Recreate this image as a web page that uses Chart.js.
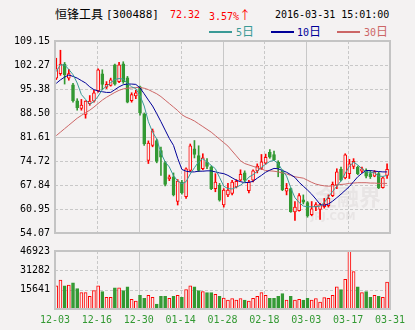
<!DOCTYPE html>
<html>
<head>
<meta charset="utf-8">
<script src="https://cdn.jsdelivr.net/npm/chart.js@4.4.1/dist/chart.umd.min.js"></script>
<style>
  body { margin: 0; background: #f4f2f2; }
  #wrap { position: relative; width: 415px; height: 330px; overflow: hidden; font-family: "DejaVu Sans Mono", monospace; font-size: 10px; }
  #wrap canvas { position: absolute; left: 0; }
  .t { position: absolute; white-space: nowrap; line-height: 12px; }
  .cjk { font-family: "Noto Sans CJK SC", sans-serif; font-size: 12px; }
  .ln { position: absolute; height: 2px; width: 23px; }
</style>
</head>
<body>
<div id="wrap">
  <span class="t cjk" style="left:55px;top:8px;">恒锋工具</span>
  <span class="t" style="left:106px;top:9px;font-size:11px;">[300488]</span>
  <span class="t" style="left:170px;top:9px;color:#ff0000;">72.32</span>
  <span class="t" style="left:209px;top:9px;color:#ff0000;">3.57%<span class="cjk">↑</span></span>
  <span class="t" style="left:275px;top:9px;">2016-03-31 15:01:00</span>

  <span class="ln" style="left:209px;top:31px;background:#3a9a96;"></span>
  <span class="t" style="left:236px;top:25px;color:#3a9a96;">5<span class="cjk">日</span></span>
  <span class="ln" style="left:271px;top:31px;background:#000099;"></span>
  <span class="t" style="left:297px;top:25px;color:#000099;">10<span class="cjk">日</span></span>
  <span class="ln" style="left:337px;top:31px;background:#cc6666;"></span>
  <span class="t" style="left:364px;top:25px;color:#cc6666;">30<span class="cjk">日</span></span>

  <canvas id="price" width="415" height="244" style="top:0;"></canvas>
  <canvas id="vol" width="415" height="90" style="top:240px;"></canvas>
</div>
<script>
// tick labels
const dateLabels = ["12-03", "12-16", "12-30", "01-14", "01-28", "02-18", "03-03", "03-17", "03-31"];
const priceTickLabels = ["54.07", "60.95", "67.84", "74.72", "81.61", "88.50", "95.38", "102.27", "109.15"];
const volTickLabels = ["0", "15641", "31282", "46923"];

// daily candles (80 trading days)
const opens = [98.5, 99.8, 102.5, 98.5, 96.6, 92.0, 89.8, 88.1, 91.2, 91.9,
  94.8, 99.7, 95.9, 96.4, 102.3, 97.5, 102.6, 98.6, 92.0, 93.4,
  96.0, 88.1, 74.9, 79.2, 80.6, 77.7, 74.3, 69.6, 70.2, 63.1,
  68.7, 64.5, 72.0, 78.2, 76.3, 72.5, 74.4, 73.0, 66.8, 67.8,
  62.1, 65.0, 65.4, 67.3, 69.2, 71.3, 66.2, 69.2, 71.9, 72.6,
  74.1, 77.2, 76.6, 74.4, 71.8, 66.1, 66.8, 60.1, 60.5, 63.6,
  62.8, 59.3, 61.6, 60.8, 61.6, 61.9, 64.8, 67.8, 72.3, 69.9,
  71.1, 73.2, 73.0, 71.8, 71.8, 71.1, 70.4, 71.1, 67.1, 70.6];
const highs = [104.2, 106.5, 103.0, 101.0, 97.0, 92.6, 92.4, 92.0, 93.5, 95.0,
  101.2, 100.9, 97.5, 98.5, 102.5, 103.0, 103.2, 99.0, 94.3, 95.0,
  96.2, 88.5, 80.5, 83.9, 81.0, 78.7, 74.6, 70.7, 71.3, 69.4,
  69.2, 72.8, 79.6, 80.6, 79.1, 76.8, 75.4, 73.3, 71.1, 68.3,
  66.8, 68.3, 69.2, 69.4, 72.2, 71.9, 69.2, 72.2, 73.9, 76.6,
  76.7, 78.0, 77.6, 74.8, 72.2, 68.3, 67.0, 63.1, 65.4, 65.0,
  63.1, 63.1, 62.8, 62.6, 64.0, 65.0, 68.7, 72.5, 73.0, 76.8,
  75.2, 75.4, 73.3, 73.0, 72.5, 72.0, 72.0, 71.5, 70.2, 73.9];
const lows = [98.1, 99.3, 96.8, 97.9, 91.6, 89.3, 89.3, 87.0, 90.7, 91.6,
  94.5, 95.2, 95.5, 96.2, 96.5, 97.2, 97.0, 91.4, 91.6, 92.6,
  87.9, 79.2, 74.0, 78.8, 74.2, 70.6, 67.6, 69.1, 64.7, 62.1,
  65.2, 64.0, 71.7, 75.6, 71.7, 72.2, 72.5, 66.5, 65.9, 63.2,
  61.5, 64.5, 65.0, 67.0, 69.0, 68.7, 65.6, 68.7, 71.3, 72.3,
  73.8, 75.5, 74.8, 70.2, 66.2, 65.0, 60.0, 57.7, 60.3, 62.4,
  58.6, 59.0, 60.5, 58.0, 61.2, 61.5, 64.5, 66.8, 69.0, 69.6,
  69.7, 72.5, 70.8, 71.4, 69.9, 69.7, 70.2, 66.8, 66.9, 69.7];
const closes = [101.2, 102.5, 99.5, 99.8, 92.0, 90.0, 90.8, 91.9, 91.9, 94.3,
  100.9, 96.7, 96.7, 98.0, 96.8, 102.3, 97.5, 91.6, 93.8, 94.3,
  88.6, 79.6, 79.9, 83.4, 74.6, 75.8, 68.0, 70.2, 65.0, 69.0,
  65.6, 72.5, 79.1, 76.6, 72.0, 75.6, 73.2, 66.8, 68.7, 63.5,
  66.4, 66.4, 68.7, 68.9, 70.9, 69.2, 68.7, 71.9, 73.3, 74.5,
  75.8, 75.8, 75.0, 72.8, 66.5, 66.9, 60.2, 61.5, 64.8, 62.9,
  59.0, 61.0, 62.2, 62.2, 62.4, 64.0, 68.0, 71.6, 69.2, 76.5,
  73.9, 74.6, 71.1, 72.5, 70.4, 70.2, 71.6, 67.0, 69.9, 72.3];
const volumes = [18690, 23300, 18690, 19450, 21230, 16620, 13300, 13300, 10230, 14840,
  18690, 14070, 9460, 9460, 17150, 17150, 14840, 17920, 7920, 6380,
  11000, 8690, 11000, 9460, 4080, 10230, 10230, 8690, 10230, 11000,
  9460, 15610, 18690, 17920, 14840, 14070, 13300, 13300, 11770, 10230,
  8920, 7150, 8460, 7150, 8460, 7150, 6380, 8690, 10230, 13300,
  11000, 8690, 8690, 10230, 12530, 7150, 10230, 7150, 7920, 7150,
  8690, 7150, 8460, 5610, 9150, 8690, 11000, 17920, 15610, 24070,
  46900, 30220, 17920, 13300, 14070, 9460, 11000, 10230, 9460, 21760];

// moving averages as shown
const ma5 = [100.4, 102.3, 102.3, 101.0, 99.5, 97.1, 93.8, 92.4, 91.0, 91.8,
  93.3, 95.2, 96.2, 97.2, 98.1, 98.4, 98.2, 97.0, 96.0, 95.5,
  93.5, 90.5, 86.0, 83.0, 81.0, 77.0, 74.5, 73.0, 70.5, 69.0,
  68.2, 68.8, 71.0, 72.8, 74.5, 75.4, 74.4, 73.5, 72.5, 70.0,
  67.5, 66.8, 66.7, 67.2, 67.8, 68.7, 70.1, 70.8, 71.8, 72.9,
  73.8, 74.6, 74.9, 74.0, 72.0, 70.4, 67.0, 64.2, 62.8, 61.8,
  61.6, 61.6, 61.6, 61.8, 62.8, 64.5, 66.0, 67.5, 69.0, 71.2,
  73.2, 74.4, 73.6, 72.5, 71.6, 71.5, 71.3, 70.4, 70.3, 70.6];
const ma10 = [97.0, 98.0, 98.8, 99.4, 99.0, 98.5, 97.8, 97.1, 96.0, 95.2,
  94.8, 94.6, 94.4, 94.4, 95.2, 96.0, 96.6, 96.8, 96.8, 96.7,
  95.7, 94.0, 92.2, 90.5, 88.3, 86.0, 83.6, 81.2, 79.2, 75.5,
  72.3, 71.8, 71.6, 71.6, 71.8, 71.8, 71.9, 71.9, 71.6, 71.3,
  71.1, 70.6, 69.9, 69.2, 68.8, 68.5, 68.6, 68.9, 69.8, 70.6,
  71.5, 72.1, 72.6, 72.5, 72.0, 71.5, 70.8, 70.0, 68.6, 67.5,
  66.4, 65.2, 63.8, 62.3, 62.0, 62.4, 63.2, 64.2, 65.2, 66.3,
  67.4, 68.8, 70.2, 71.2, 72.0, 72.0, 71.8, 71.7, 71.6, 71.6];
const ma30 = [82.0, 83.0, 84.0, 85.0, 86.0, 87.0, 87.8, 88.6, 89.3, 90.2,
  91.2, 92.2, 93.0, 93.7, 94.4, 95.0, 95.4, 95.6, 95.7, 95.8,
  95.8, 95.6, 95.2, 94.6, 94.0, 93.2, 92.2, 91.2, 90.2, 89.2,
  88.0, 87.3, 86.8, 86.2, 85.4, 84.6, 83.8, 83.0, 82.0, 81.0,
  80.0, 79.0, 77.6, 76.2, 74.8, 74.0, 73.6, 73.2, 72.8, 72.4,
  72.0, 71.9, 71.8, 71.6, 71.3, 71.0, 70.6, 70.2, 70.0, 69.8,
  69.2, 68.6, 68.1, 67.8, 67.6, 67.5, 67.6, 67.8, 68.0, 68.1,
  68.3, 68.4, 68.5, 68.5, 68.5, 68.4, 68.4, 68.3, 68.3, 68.3];

const RED = "#ff0000";
const GREEN = "#339933";
const BG = "#f4f2f2";
const GRID = "#c8c8c8";
const xAt = i => i + 0.3;
const up = closes.map((c, i) => c >= opens[i]);
const monoFont = { family: "DejaVu Sans Mono", size: 10 };

// dashed grid + frame, solid lines on some ticks
const panelGrid = {
  id: "panelGrid",
  beforeDatasetsDraw(chart, args, opts) {
    const { ctx, chartArea: a, scales } = chart;
    ctx.save();
    ctx.lineWidth = 1;
    ctx.strokeStyle = GRID;
    for (let v = 10; v < 80; v += 10) {
      const x = Math.round(scales.x.getPixelForValue(v)) + 0.5;
      ctx.setLineDash(v % 20 === 0 ? [] : [3, 2]);
      ctx.beginPath(); ctx.moveTo(x, a.top); ctx.lineTo(x, a.bottom); ctx.stroke();
    }
    const yt = opts.yTicks;
    for (let k = 1; k < yt.length - 1; k++) {
      const y = Math.round(scales.y.getPixelForValue(yt[k])) + 0.5;
      ctx.setLineDash(opts.solidY === k ? [] : [3, 2]);
      ctx.beginPath(); ctx.moveTo(a.left, y); ctx.lineTo(a.right, y); ctx.stroke();
    }
    ctx.setLineDash([]);
    if (opts.watermark) {
      ctx.fillStyle = "rgba(190,180,180,0.22)";
      ctx.font = "bold 22px 'Noto Sans CJK SC'";
      ctx.textAlign = "center";
      ctx.textBaseline = "middle";
      ctx.fillText("金融界", a.right - 42, a.bottom - 36);
      ctx.font = "bold 10px 'DejaVu Sans'";
      ctx.fillText("JRJ.COM", a.right - 57, a.bottom - 16);
    }
    ctx.restore();
  },
  afterDraw(chart) {
    const { ctx, chartArea: a } = chart;
    ctx.save();
    ctx.strokeStyle = "#c4c4c4";
    ctx.lineWidth = 2;
    ctx.strokeRect(a.left, a.top, a.right - a.left, a.bottom - a.top);
    ctx.restore();
  }
};

const priceTicks = priceTickLabels.map(Number);
const volTicks = volTickLabels.map(Number);
const xTicks = dateLabels.map((d, k) => k * 10);

const priceChart = new Chart(document.getElementById("price"), {
  type: "bar",
  data: {
    datasets: [
      { type: "line", data: ma5.map((v, i) => ({ x: xAt(i), y: v })), borderColor: "#3a9a96", borderWidth: 1, pointRadius: 0, order: 0 },
      { type: "line", data: ma10.map((v, i) => ({ x: xAt(i), y: v })), borderColor: "#000099", borderWidth: 1, pointRadius: 0, order: 0 },
      { type: "line", data: ma30.map((v, i) => ({ x: xAt(i), y: v })), borderColor: "#cc6666", borderWidth: 1, pointRadius: 0, order: 0 },
      {
        data: closes.map((c, i) => ({ x: xAt(i), y: [opens[i], c] })),
        backgroundColor: up.map(u => (u ? BG : GREEN)),
        borderColor: up.map(u => (u ? RED : GREEN)),
        borderWidth: 1, borderSkipped: false, barThickness: 3, grouped: false, order: 1
      },
      {
        data: closes.map((c, i) => ({ x: xAt(i), y: [lows[i], highs[i]] })),
        backgroundColor: up.map(u => (u ? RED : GREEN)),
        barThickness: 1, grouped: false, order: 2
      }
    ]
  },
  options: {
    responsive: false,
    animation: false,
    layout: { padding: { top: 41, right: 25, bottom: 9, left: 0 } },
    plugins: { legend: { display: false }, tooltip: { enabled: false }, panelGrid: { yTicks: priceTicks, solidY: 4, watermark: true } },
    scales: {
      x: { type: "linear", min: 0, max: 80, offset: false, display: false },
      y: {
        min: priceTicks[0], max: priceTicks[priceTicks.length - 1],
        afterBuildTicks: ax => { ax.ticks = priceTicks.map(v => ({ value: v })); },
        afterFit: ax => { ax.width = 55; },
        grid: { display: false, drawTicks: false },
        border: { display: false },
        ticks: { font: monoFont, color: "#000", padding: 5, callback: (v, k) => priceTickLabels[k] }
      }
    }
  },
  plugins: [panelGrid]
});

const volChart = new Chart(document.getElementById("vol"), {
  type: "bar",
  data: {
    datasets: [{
      data: volumes.map((v, i) => ({ x: xAt(i), y: v })),
      backgroundColor: up.map(u => (u ? BG : GREEN)),
      borderColor: up.map(u => (u ? RED : GREEN)),
      borderWidth: 1, borderSkipped: false, barThickness: 3, grouped: false
    }]
  },
  options: {
    responsive: false,
    animation: false,
    layout: { padding: { top: 8, right: 25, bottom: 0, left: 0 } },
    plugins: { legend: { display: false }, tooltip: { enabled: false }, panelGrid: { yTicks: volTicks, solidY: -1 } },
    scales: {
      x: {
        type: "linear", min: 0, max: 80, offset: false,
        afterBuildTicks: ax => { ax.ticks = xTicks.map(v => ({ value: v })); },
        afterFit: ax => { ax.height = 21; },
        grid: { display: false, drawTicks: false },
        border: { display: false },
        ticks: { font: { family: "DejaVu Sans Mono", size: 10 }, color: GREEN, padding: 5, autoSkip: false, maxRotation: 0, callback: (v, k) => dateLabels[k] }
      },
      y: {
        min: 0, max: volTicks[volTicks.length - 1],
        afterBuildTicks: ax => { ax.ticks = volTicks.map(v => ({ value: v })); },
        afterFit: ax => { ax.width = 55; },
        grid: { display: false, drawTicks: false },
        border: { display: false },
        ticks: { font: monoFont, color: "#000", padding: 5, callback: (v, k) => (k === 0 ? "" : volTickLabels[k]) }
      }
    }
  },
  plugins: [panelGrid]
});
</script>
</body>
</html>
